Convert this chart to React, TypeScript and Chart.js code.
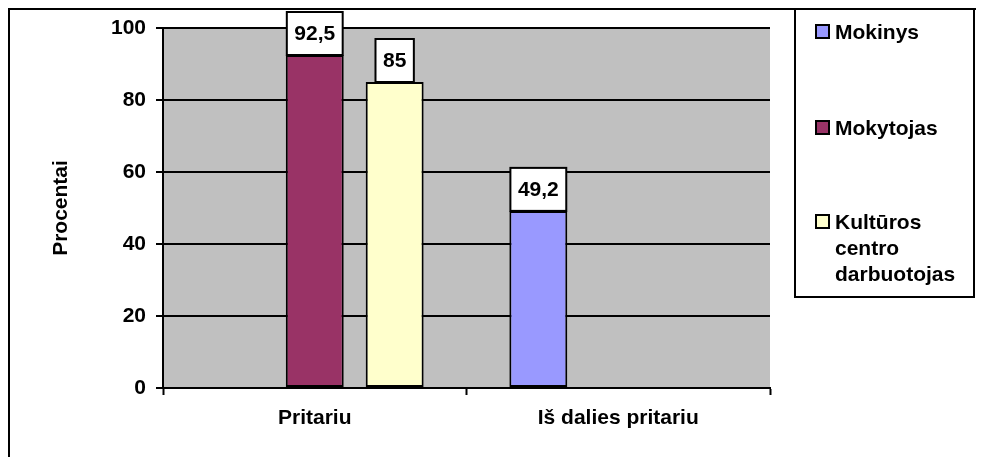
import React, { useEffect, useRef } from 'react';
import { Chart, registerables } from 'chart.js';

Chart.register(...registerables);

const categories = ['Pritariu', 'Iš dalies pritariu'];
const seriesNames = ['Mokinys', 'Mokytojas', 'Kultūros centro darbuotojas'];
const mokinys = [null, 49.2];
const mokytojas = [92.5, null];
const kulturos = [85, null];
const seriesColors = ['#9999FF', '#993366', '#FFFFCC'];
const yTicks = [0, 20, 40, 60, 80, 100];
const yAxisTitle = 'Procentai';
const legendLines = [['Mokinys'], ['Mokytojas'], ['Kultūros', 'centro', 'darbuotojas']];

const FAMILY = '"Liberation Sans", Arial, sans-serif';
const FSIZE = 21;
const FONT = { family: FAMILY, size: FSIZE, weight: 'bold' as const };

const decoPlugin = {
  id: 'deco',
  beforeDraw(chart: any) {
    const { ctx, chartArea: a } = chart;
    ctx.save();
    ctx.fillStyle = '#C0C0C0';
    ctx.fillRect(a.left, a.top, a.right - a.left, a.bottom - a.top);
    ctx.restore();
  },
  afterDatasetsDraw(chart: any) {
    const { ctx } = chart;
    ctx.save();
    ctx.font = `bold ${FSIZE}px ${FAMILY}`;
    chart.data.datasets.forEach((ds: any, i: number) => {
      const meta = chart.getDatasetMeta(i);
      meta.data.forEach((bar: any, j: number) => {
        const v = ds.data[j];
        if (v == null) return;
        const text = String(v).replace('.', ',');
        const w = ctx.measureText(text).width + 15;
        const h = 43;
        const x = bar.x - w / 2;
        const y = bar.y - h;
        ctx.fillStyle = '#FFFFFF';
        ctx.fillRect(x, y, w, h);
        ctx.strokeStyle = '#000';
        ctx.lineWidth = 2;
        ctx.strokeRect(x, y, w, h);
        ctx.fillStyle = '#000';
        ctx.textAlign = 'center';
        ctx.textBaseline = 'middle';
        ctx.fillText(text, bar.x, y + h / 2 + 1);
      });
    });
    ctx.restore();
  },
  afterDraw(chart: any) {
    const { ctx } = chart;
    ctx.save();
    ctx.strokeStyle = '#000';
    ctx.lineWidth = 2;
    // outer frame (right and bottom edges lie outside the picture)
    ctx.beginPath();
    ctx.moveTo(1, chart.height + 10);
    ctx.lineTo(1, 1);
    ctx.lineTo(chart.width + 10, 1);
    ctx.stroke();
    // legend box
    ctx.strokeRect(787, 1, 179, 288);
    const centers = [24, 120, 214];
    ctx.font = `bold ${FSIZE}px ${FAMILY}`;
    ctx.textAlign = 'left';
    ctx.textBaseline = 'middle';
    chart.data.datasets.forEach((ds: any, i: number) => {
      const cy = centers[i];
      ctx.fillStyle = ds.backgroundColor;
      ctx.fillRect(808, cy - 7, 13, 13);
      ctx.strokeStyle = '#000';
      ctx.lineWidth = 2;
      ctx.strokeRect(808, cy - 7, 13, 13);
      ctx.fillStyle = '#000';
      legendLines[i].forEach((line, k) => {
        ctx.fillText(line, 827, cy + 1 + k * 26);
      });
    });
    ctx.restore();
  },
};

export default function App() {
  const ref = useRef<HTMLCanvasElement>(null);
  useEffect(() => {
    if (!ref.current) return;
    const seriesData = [mokinys, mokytojas, kulturos];
    const chart = new Chart(ref.current, {
      type: 'bar',
      data: {
        labels: categories,
        datasets: seriesNames.map((name, i) => ({
          label: name,
          data: seriesData[i] as any,
          backgroundColor: seriesColors[i],
          borderColor: '#000',
          borderWidth: 2,
          borderSkipped: false,
          barPercentage: 0.725,
          categoryPercentage: 0.79,
        })),
      },
      options: {
        responsive: false,
        animation: false,
        layout: { padding: { top: 20, right: 206, left: 0, bottom: 0 } },
        plugins: { legend: { display: false }, tooltip: { enabled: false } },
        scales: {
          x: {
            grid: {
              display: true,
              drawOnChartArea: false,
              drawTicks: true,
              tickLength: 7,
              tickColor: '#000',
              tickWidth: 2,
              offset: true,
            },
            border: { display: true, color: '#000', width: 2 },
            ticks: { color: '#000', font: FONT, padding: 11, maxRotation: 0 },
            afterFit: (s: any) => {
              s.height = 69;
            },
          },
          y: {
            min: 0,
            max: 100,
            afterBuildTicks: (s: any) => {
              s.ticks = yTicks.map((v) => ({ value: v }));
            },
            ticks: { color: '#000', font: FONT, padding: 10 },
            grid: {
              color: '#000',
              lineWidth: 2,
              tickLength: 7,
              tickColor: '#000',
              tickWidth: 2,
              drawTicks: true,
            },
            border: { display: true, color: '#000', width: 2 },
            title: {
              display: true,
              text: yAxisTitle,
              color: '#000',
              font: FONT,
              padding: { top: 41, bottom: 0 },
            },
            afterFit: (s: any) => {
              s.width = 155;
              s.paddingTop = 0;
              s.paddingBottom = 0;
            },
          },
        },
      } as any,
      plugins: [decoPlugin],
    });
    return () => chart.destroy();
  }, []);
  return <canvas ref={ref} width={968} height={449} style={{ display: 'block' }} />;
}
